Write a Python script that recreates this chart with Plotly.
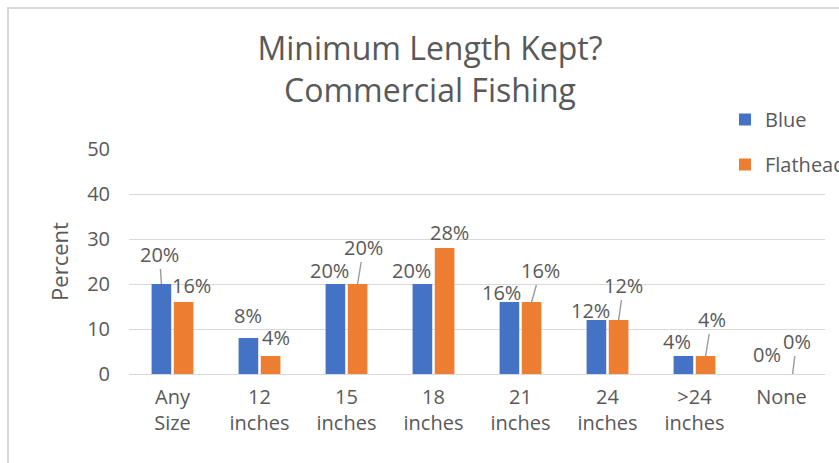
import plotly.graph_objects as go

# ---- data ----
categories = ["Any Size", "12 inches", "15 inches", "18 inches",
              "21 inches", "24 inches", ">24 inches", "None"]
tick_labels = ["Any<br>Size", "12<br>inches", "15<br>inches", "18<br>inches",
               "21<br>inches", "24<br>inches", ">24<br>inches", "None"]
blue = [20, 8, 20, 20, 16, 12, 4, 0]
flathead = [16, 4, 20, 28, 16, 12, 4, 0]
y_ticks = [0, 10, 20, 30, 40, 50]

# ---- label placement (pixel offsets of label centre from bar top, leader line?) ----
blue_label_pos = [(-2, -30, True), (0, -23, False), (-6, -14, False), (-11, -14, False),
                  (-8, -10, False), (-6, -10, False), (-6, -15, False), (-3, -20, False)]
flat_label_pos = [(8, -17, False), (5, -19, False), (6, -37, True), (5, -16, False),
                  (9, -32, True), (5, -35, True), (6, -37, True), (4, -33, True)]

BLUE_C = "#4472C4"
ORANGE_C = "#ED7D31"
TEXT_C = "#595959"
GRID_C = "#D9D9D9"
FONT = "Open Sans"

W, H = 839, 463
ML, MR, MT, MB = 129, 14, 149, 89
PW = W - ML - MR
PH = H - MT - MB
BAR_OFF = 11.1


def px_x(px):
    return (px - ML) / PW


def px_y(py):
    return (H - MB - py) / PH


fig = go.Figure()
fig.add_trace(go.Bar(name="Blue", x=categories, y=blue, marker_color=BLUE_C,
                     legendgroup="a", marker_line_width=0))
fig.add_trace(go.Bar(name="Flathead", x=categories, y=flathead, marker_color=ORANGE_C,
                     legendgroup="b", marker_line_width=0))

annotations = []
for series, pos, sign in ((blue, blue_label_pos, -1), (flathead, flat_label_pos, 1)):
    for i, v in enumerate(series):
        dx, dy, lead = pos[i]
        base = dict(x=categories[i], y=v, xref="x", yref="y", text=f"{v}%",
                    font=dict(family=FONT, size=20, color=TEXT_C))
        if lead:
            base.update(showarrow=True, ax=dx, ay=dy, axref="pixel", ayref="pixel",
                        arrowhead=0, arrowwidth=1.4, arrowcolor="#9A9A9A",
                        standoff=0, xshift=sign * BAR_OFF)
        else:
            base.update(showarrow=False, xshift=sign * BAR_OFF + dx, yshift=-dy)
        annotations.append(base)

fig.update_layout(
    width=W, height=H,
    margin=dict(l=ML, r=MR, t=MT, b=MB, autoexpand=False),
    paper_bgcolor="white", plot_bgcolor="white",
    font=dict(family=FONT, size=20, color=TEXT_C),
    barmode="group", bargap=0.49, bargroupgap=0.115,
    title=dict(text="Minimum Length Kept?<br>Commercial Fishing",
               font=dict(family=FONT, size=32, color=TEXT_C),
               x=430 / W, xref="container", xanchor="center",
               y=1 - 60 / H, yref="container", yanchor="top"),
    legend=dict(x=px_x(725), y=px_y(100), xanchor="left", yanchor="top",
                traceorder="grouped", tracegroupgap=16,
                font=dict(family=FONT, size=20, color=TEXT_C),
                bgcolor="rgba(0,0,0,0)"),
    xaxis=dict(type="category", tickvals=categories, ticktext=tick_labels,
               showgrid=False, showline=False, zeroline=False, ticks="",
               tickfont=dict(family=FONT, size=20, color=TEXT_C),
               ticklabelstandoff=9),
    yaxis=dict(range=[0, 50], tickvals=y_ticks, showgrid=True, gridcolor=GRID_C,
               gridwidth=1.3, zeroline=True, zerolinecolor=GRID_C, zerolinewidth=1.3,
               showline=False, ticks="", ticklabelstandoff=18,
               tickfont=dict(family=FONT, size=20, color=TEXT_C),
               title=dict(text="Percent", standoff=12,
                          font=dict(family=FONT, size=22, color=TEXT_C))),
    annotations=annotations,
    shapes=[dict(type="rect", xref="paper", yref="paper",
                 x0=px_x(8), x1=px_x(870), y0=px_y(490), y1=px_y(8),
                 line=dict(color=GRID_C, width=2), fillcolor="rgba(0,0,0,0)",
                 layer="below")],
    hovermode=False,
)

fig.write_html("out.html", config={"displayModeBar": False},
               post_script="document.body.style.margin='0';")
